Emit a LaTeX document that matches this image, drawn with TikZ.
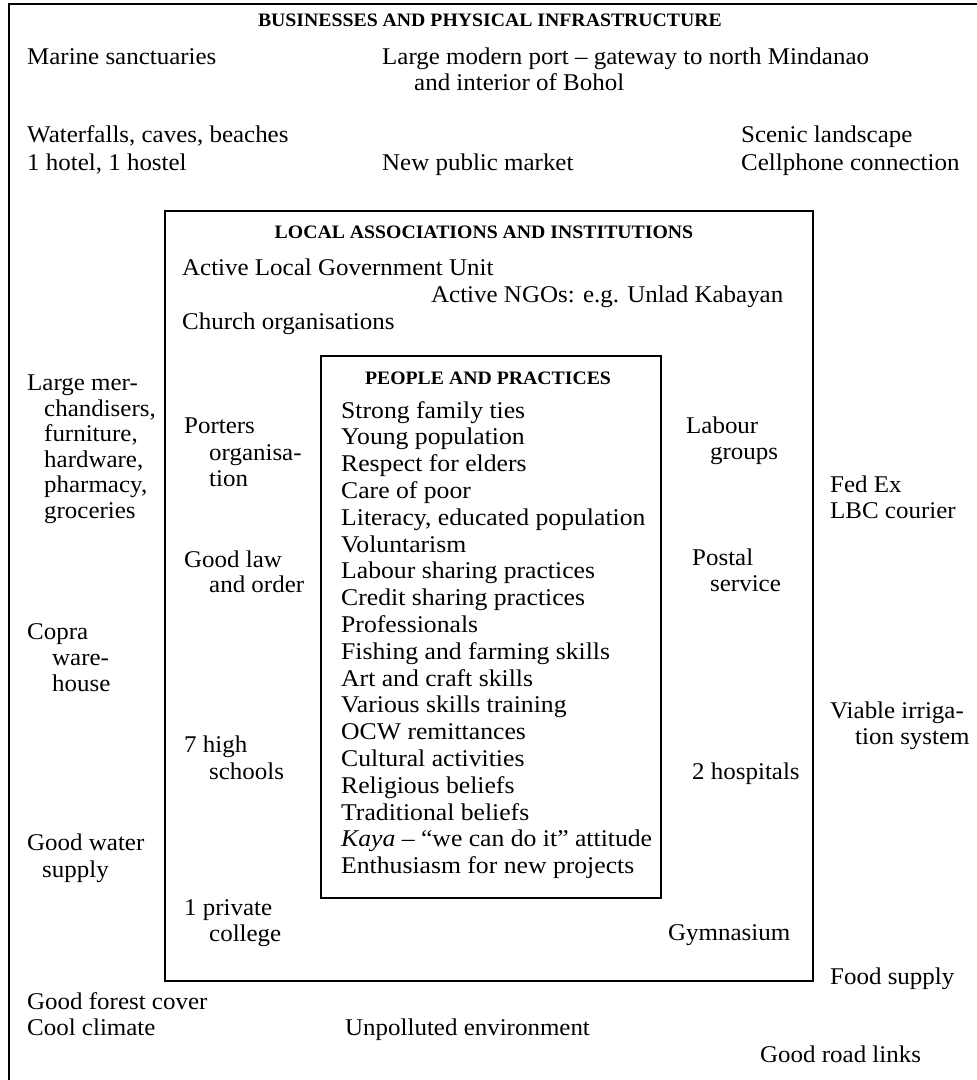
\documentclass[tikz,border=0pt]{standalone}
\usepackage{fontspec}
\setmainfont[FakeStretch=1.04]{Liberation Serif}
\newfontfamily\listfont[FakeStretch=1.07,Ligatures=TeX]{Liberation Serif}
\begin{document}
\begin{tikzpicture}[x=1pt,y=-1pt,
  t/.style={anchor=base west,inner sep=0pt,font=\fontsize{24}{27}\selectfont},
  li/.style={anchor=base west,inner sep=0pt,font=\fontsize{24}{27}\listfont},
  hd/.style={anchor=base,inner sep=0pt,font=\fontsize{19}{22}\selectfont\bfseries},
  frame/.style={draw=black,line width=2pt,inner sep=0pt,anchor=north west}]
\useasboundingbox (0,0) rectangle (977,1080);
% outer frame (only top and left visible)
\draw[line width=2.6pt] (9,1080) -- (9,4) -- (977,4);
% boxes
\node[frame,minimum width=648pt,minimum height=770pt] (mid) at (164,210) {};
\node[frame,line width=1.6pt,minimum width=340pt,minimum height=542pt] (inner) at (320,355) {};
% headings
\node[hd] (h1) at (490,26) {BUSINESSES AND PHYSICAL INFRASTRUCTURE};
\node[hd] (h2) at (484,238) {LOCAL ASSOCIATIONS AND INSTITUTIONS};
\node[hd] (h3) at (488,384) {PEOPLE AND PRACTICES};
% outer ring texts
\node[t] (marine) at (27,64) {Marine sanctuaries};
\node[t] (port1) at (382,64) {Large modern port – gateway to north Mindanao};
\node[t] (port2) at (414,90) {and interior of Bohol};
\node[t] (water) at (27,142) {Waterfalls, caves, beaches};
\node[t] (hotel) at (27,170) {1 hotel, 1 hostel};
\node[t] (market) at (382,170) {New public market};
\node[t] (scenic) at (741,142) {Scenic landscape};
\node[t] (cell) at (741,170) {Cellphone connection};
\node[t] (merch1) at (27,390) {Large mer-};
\node[t] (merch2) at (44,416) {chandisers,};
\node[t] (merch3) at (44,441) {furniture,};
\node[t] (merch4) at (44,467) {hardware,};
\node[t] (merch5) at (44,492) {pharmacy,};
\node[t] (merch6) at (44,518) {groceries};
\node[t] (copra1) at (27,639) {Copra};
\node[t] (copra2) at (52,665) {ware-};
\node[t] (copra3) at (52,691) {house};
\node[t] (gw1) at (27,850) {Good water};
\node[t] (gw2) at (42,877) {supply};
\node[t] (forest) at (27,1009) {Good forest cover};
\node[t] (climate) at (27,1035) {Cool climate};
\node[t] (unpol) at (345,1035) {Unpolluted environment};
\node[t] (road) at (760,1062) {Good road links};
\node[t] (fedex) at (830,492) {Fed Ex};
\node[t] (lbc) at (830,518) {LBC courier};
\node[t] (irr1) at (830,718) {Viable irriga-};
\node[t] (irr2) at (855,744) {tion system};
\node[t] (food) at (830,984) {Food supply};
% middle ring texts
\node[t] (lgu) at (182,275) {Active Local Government Unit};
\node[t] (ngo) at (431,302) {Active NGOs: e.g. Unlad Kabayan};
\node[t] (church) at (182,329) {Church organisations};
\node[t] (port1a) at (184,433) {Porters};
\node[t] (port2a) at (209,460) {organisa-};
\node[t] (port3a) at (209,486) {tion};
\node[t] (law1) at (184,567) {Good law};
\node[t] (law2) at (209,592) {and order};
\node[t] (hs1) at (184,752) {7 high};
\node[t] (hs2) at (209,779) {schools};
\node[t] (col1) at (184,915) {1 private};
\node[t] (col2) at (209,941) {college};
\node[t] (lab1) at (686,433) {Labour};
\node[t] (lab2) at (710,459) {groups};
\node[t] (post1) at (692,565) {Postal};
\node[t] (post2) at (710,591) {service};
\node[t] (hosp) at (692,779) {2 hospitals};
\node[t] (gym) at (668,940) {Gymnasium};
% inner list
\foreach \txt [count=\i] in {
  {Strong family ties},{Young population},{Respect for elders},{Care of poor},
  {Literacy, educated population},{Voluntarism},{Labour sharing practices},
  {Credit sharing practices},{Professionals},{Fishing and farming skills},
  {Art and craft skills},{Various skills training},{OCW remittances},
  {Cultural activities},{Religious beliefs},{Traditional beliefs},
  {\textit{Kaya} – “we can do it” attitude},{Enthusiasm for new projects}}
  \node[li] (pp\i) at (341,{418+26.8*(\i-1)}) {\txt};
\end{tikzpicture}
\end{document}
